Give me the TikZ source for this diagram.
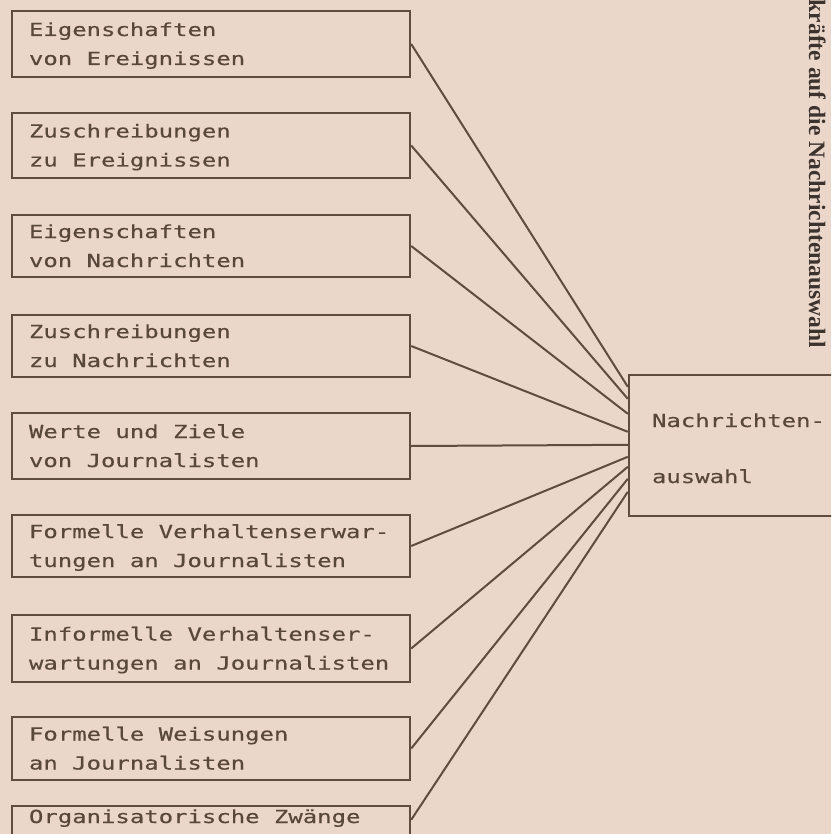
\documentclass[tikz,border=0pt]{standalone}
\usepackage{fontspec}
\setmainfont{Liberation Serif}
\newfontfamily\typew[FakeStretch=1.33,FakeBold=0.4]{DejaVu Sans Mono}
\newfontfamily\headfont{Liberation Serif}
\usetikzlibrary{calc}
\definecolor{paper}{RGB}{235,215,201}
\definecolor{ink}{RGB}{94,76,62}
\definecolor{txt}{RGB}{88,72,60}
\definecolor{headc}{RGB}{60,50,46}
\newcommand\typefont[1]{\typew\fontsize{18pt}{#1}\selectfont}
\newcommand\ws{\hspace*{14.41pt}}
\begin{document}
\begin{tikzpicture}[x=1pt,y=-1pt,
  src/.style={draw=ink, line width=2.4pt, rectangle, minimum width=398pt,
    inner xsep=17pt, inner ysep=0pt, text width=364pt, align=left,
    text height=17pt, text depth=33pt, text=txt,
    font=\typefont{29pt}},
  target/.style={draw=ink, line width=2.4pt, rectangle, minimum width=231pt,
    minimum height=141pt, inner xsep=23pt, inner ysep=0pt, text width=185pt,
    align=left, text height=23pt, text depth=60pt, text=txt,
    font=\typefont{56pt}},
  conn/.style={draw=ink, line width=2pt},
  headtext/.style={font=\headfont\bfseries\fontsize{23.5pt}{28pt}\selectfont,
    text=headc, rotate=-90, anchor=base east, inner sep=0pt}]
\useasboundingbox (0,0) rectangle (831,834);
\clip (0,0) rectangle (831,834);
\fill[paper] (0,0) rectangle (831,834);

\node[headtext] (hd) at (809,348) {kräfte auf die Nachrichtenauswahl};

\node[src, minimum height=66pt] (b1) at (211,44) {Eigenschaften\\von\ws Ereignissen};
\node[src, minimum height=65pt] (b2) at (211,145.5) {Zuschreibungen\\zu\ws Ereignissen};
\node[src, minimum height=62pt] (b3) at (211,246) {Eigenschaften\\von\ws Nachrichten};
\node[src, minimum height=62pt] (b4) at (211,346) {Zuschreibungen\\zu\ws Nachrichten};
\node[src, minimum height=66pt] (b5) at (211,446) {Werte\ws und\ws Ziele\\von\ws Journalisten};
\node[src, minimum height=62pt] (b6) at (211,546) {Formelle\ws Verhaltenserwar-\\tungen\ws an\ws Journalisten};
\node[src, minimum height=67pt] (b7) at (211,648.5) {Informelle\ws Verhaltenser-\\wartungen\ws an\ws Journalisten};
\node[src, minimum height=63pt] (b8) at (211,748.5) {Formelle\ws Weisungen\\an\ws Journalisten};
\node[src, minimum height=66pt, text depth=53pt] (b9) at (211,841) {Organisatorische\ws Zwänge};

\node[target] (nb) at (744.5,445.5) {Nachrichten-\\auswahl};

\coordinate (e1) at ($(nb.north west)+(0,13)$);
\coordinate (e2) at ($(nb.north west)+(0,25)$);
\coordinate (e3) at ($(nb.north west)+(0,40)$);
\coordinate (e4) at ($(nb.north west)+(0,58)$);
\coordinate (e5) at ($(nb.north west)+(0,71)$);
\coordinate (e6) at ($(nb.north west)+(0,83)$);
\coordinate (e7) at ($(nb.north west)+(0,93)$);
\coordinate (e8) at ($(nb.north west)+(0,105)$);
\coordinate (e9) at ($(nb.north west)+(0,118)$);
\coordinate (s9) at ($(b9.north east)+(0,15)$);

\draw[conn] (b1.east) -- (e1);
\draw[conn] (b2.east) -- (e2);
\draw[conn] (b3.east) -- (e3);
\draw[conn] (b4.east) -- (e4);
\draw[conn] (b5.east) -- (e5);
\draw[conn] (b6.east) -- (e6);
\draw[conn] (b7.east) -- (e7);
\draw[conn] (b8.east) -- (e8);
\draw[conn] (s9) -- (e9);
\end{tikzpicture}
\end{document}
